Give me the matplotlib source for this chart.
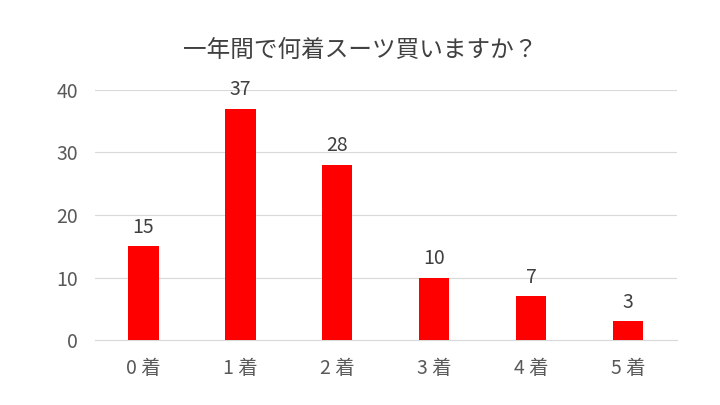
import matplotlib
matplotlib.use("Agg")
import matplotlib.pyplot as plt

plt.rcParams['font.family'] = ['Noto Sans CJK JP', 'DejaVu Sans']

categories = ["0 着", "1 着", "2 着", "3 着", "4 着", "5 着"]
values = [15, 37, 28, 10, 7, 3]
yticks = [0, 10, 20, 30, 40]
title = "一年間で何着スーツ買いますか？"

fig = plt.figure(figsize=(7.2, 4.05), dpi=100)
ax = fig.add_axes([0.132, 0.160, 0.808, 0.618])
x = list(range(len(categories)))
bars = ax.bar(x, values, width=0.31, color="#ff0000", zorder=3)
for xi, v in zip(x, values):
    ax.text(xi, v + 1.4, str(v), ha="center", va="bottom", fontsize=14, color="#404040")
ax.set_xlim(-0.5, len(categories) - 0.5)
ax.set_ylim(0, 40)
ax.set_yticks(yticks)
ax.set_xticks(x)
ax.set_xticklabels(categories)
ax.grid(axis="y", color="#d9d9d9", linewidth=0.8, zorder=0)
for s in ["top", "right", "left"]:
    ax.spines[s].set_visible(False)
ax.spines["bottom"].set_color("#d9d9d9")
ax.tick_params(axis="both", length=0, labelsize=14, colors="#595959")
ax.tick_params(axis="x", pad=13)
ax.tick_params(axis="y", pad=12)
fig.text(0.5, 0.875, title, ha="center", va="center", fontsize=17, color="#404040")
fig.savefig("out.png", dpi=100)
